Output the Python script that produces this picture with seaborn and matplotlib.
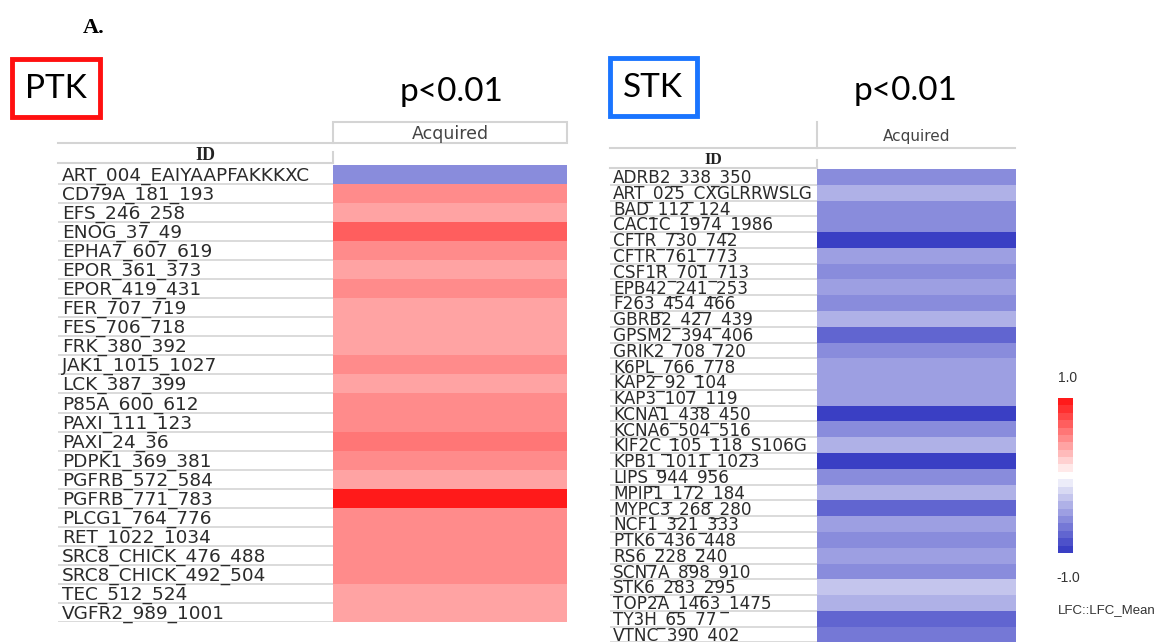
import numpy as np
import pandas as pd
import matplotlib
matplotlib.use("Agg")
import matplotlib.pyplot as plt
import seaborn as sns
from matplotlib.colors import ListedColormap
from matplotlib.patches import Rectangle

W, H = 1174, 642

ptk_ids = [
    "ART_004_EAIYAAPFAKKKXC", "CD79A_181_193", "EFS_246_258", "ENOG_37_49",
    "EPHA7_607_619", "EPOR_361_373", "EPOR_419_431", "FER_707_719",
    "FES_706_718", "FRK_380_392", "JAK1_1015_1027", "LCK_387_399",
    "P85A_600_612", "PAXI_111_123", "PAXI_24_36", "PDPK1_369_381",
    "PGFRB_572_584", "PGFRB_771_783", "PLCG1_764_776", "RET_1022_1034",
    "SRC8_CHICK_476_488", "SRC8_CHICK_492_504", "TEC_512_524", "VGFR2_989_1001",
]
ptk_lfc = [
    -0.6, 0.5, 0.4, 0.68, 0.45, 0.35, 0.45, 0.4, 0.35, 0.42, 0.5, 0.35,
    0.5, 0.45, 0.58, 0.48, 0.42, 0.95, 0.45, 0.5, 0.5, 0.5, 0.35, 0.35,
]

stk_ids = [
    "ADRB2_338_350", "ART_025_CXGLRRWSLG", "BAD_112_124", "CAC1C_1974_1986",
    "CFTR_730_742", "CFTR_761_773", "CSF1R_701_713", "EPB42_241_253",
    "F263_454_466", "GBRB2_427_439", "GPSM2_394_406", "GRIK2_708_720",
    "K6PL_766_778", "KAP2_92_104", "KAP3_107_119", "KCNA1_438_450",
    "KCNA6_504_516", "KIF2C_105_118_S106G", "KPB1_1011_1023", "LIPS_944_956",
    "MPIP1_172_184", "MYPC3_268_280", "NCF1_321_333", "PTK6_436_448",
    "RS6_228_240", "SCN7A_898_910", "STK6_283_295", "TOP2A_1463_1475",
    "TY3H_65_77", "VTNC_390_402",
]
stk_lfc = [
    -0.55, -0.4, -0.6, -0.6, -1.0, -0.5, -0.55, -0.5, -0.6, -0.4,
    -0.75, -0.55, -0.5, -0.45, -0.45, -1.0, -0.6, -0.4, -0.95, -0.6,
    -0.4, -0.75, -0.5, -0.55, -0.5, -0.6, -0.25, -0.4, -0.75, -0.7,
]

# discrete blue-white-red scale like the original viewer
lfc_cmap = ListedColormap(sns.blend_palette(["#3a3fc4", "#ffffff", "#ff1a1a"], n_colors=21))

fig = plt.figure(figsize=(W / 100, H / 100), dpi=100)


def px_axes(x0, y0, x1, y1, **kw):
    return fig.add_axes([x0 / W, 1 - y1 / H, (x1 - x0) / W, (y1 - y0) / H], **kw)


# overlay in pixel coordinates for frames, header lines and titles
over = px_axes(0, 0, W, H, zorder=0)
over.set_xlim(0, W)
over.set_ylim(H, 0)
over.axis("off")

grey = "#d4d4d4"


def panel(ids, values, lab_x0, hm_x0, hm_x1, y0, row_h, fontsize):
    n = len(ids)
    y1 = y0 + n * row_h
    df = pd.DataFrame({"Acquired": values}, index=ids)
    ax = px_axes(hm_x0, y0, hm_x1, y1, zorder=2)
    sns.heatmap(df, ax=ax, cmap=lfc_cmap, vmin=-1, vmax=1, cbar=False,
                xticklabels=False, yticklabels=False)
    ax.set_ylabel("")
    lab = px_axes(lab_x0, y0, hm_x0, y1, zorder=1)
    lab.set_xlim(0, 1)
    lab.set_ylim(n, 0)
    lab.axis("off")
    for i, name in enumerate(ids):
        lab.text(0.015, i + 0.58, name, va="center", ha="left",
                 fontsize=fontsize, color="#2b2b2b", family="DejaVu Sans")
        lab.axhline(i + 1, color=grey, lw=1.2)
    return ax


panel(ptk_ids, ptk_lfc, 58, 333, 567, 165, 19.04, 13.3)
panel(stk_ids, stk_lfc, 610, 817, 1016, 169, 15.78, 12.2)

# left header
over.add_patch(Rectangle((333, 122), 234, 21, fill=False, ec=grey, lw=1.5))
over.plot([58, 333], [143, 143], color=grey, lw=1.5)
over.plot([58, 333], [163, 163], color=grey, lw=1.5)
over.plot([333, 333], [152, 163], color=grey, lw=1.5)
over.text(450, 134, "Acquired", ha="center", va="center", fontsize=12.5,
          color="#444444", family="DejaVu Sans")
over.text(205, 155, "ID", ha="center", va="center", fontsize=13,
          fontweight="bold", family="Liberation Serif", color="#222222")

# right header
over.plot([817, 817], [122, 148], color=grey, lw=1.5)
over.plot([610, 1015], [148, 148], color=grey, lw=1.5)
over.plot([610, 817], [168, 168], color=grey, lw=1.5)
over.plot([817, 817], [160, 168], color=grey, lw=1.5)
over.text(917, 137, "Acquired", ha="center", va="center", fontsize=11,
          color="#444444", family="DejaVu Sans")
over.text(713, 160, "ID", ha="center", va="center", fontsize=11.5,
          fontweight="bold", family="Liberation Serif", color="#222222")

# titles
over.text(83, 28, "A.", ha="left", va="center", fontsize=16, fontweight="bold",
          family="Liberation Serif")
over.add_patch(Rectangle((12, 59), 88, 58, fill=False, ec="#ff1010", lw=3.5))
over.text(56, 89, "PTK", ha="center", va="center", fontsize=24, family="Lato")
over.text(452, 92, "p<0.01", ha="center", va="center", fontsize=24, family="Lato")
over.add_patch(Rectangle((610, 58), 87, 58, fill=False, ec="#1a75ff", lw=3.5))
over.text(653, 88, "STK", ha="center", va="center", fontsize=24, family="Lato")
over.text(906, 91, "p<0.01", ha="center", va="center", fontsize=24, family="Lato")

# colour scale
cax = px_axes(1058, 398, 1073, 553, zorder=2)
sm = plt.cm.ScalarMappable(cmap=lfc_cmap, norm=plt.Normalize(-1, 1))
cb = fig.colorbar(sm, cax=cax)
cb.set_ticks([])
cb.outline.set_visible(False)
over.text(1068, 378, "1.0", ha="center", va="center", fontsize=10,
          color="#333333", family="Liberation Sans")
over.text(1068, 578, "-1.0", ha="center", va="center", fontsize=10,
          color="#333333", family="Liberation Sans")
over.text(1058, 610, "LFC::LFC_Mean", ha="left", va="center", fontsize=9.5,
          color="#333333", family="Liberation Sans")

fig.savefig("out.png", dpi=100)
